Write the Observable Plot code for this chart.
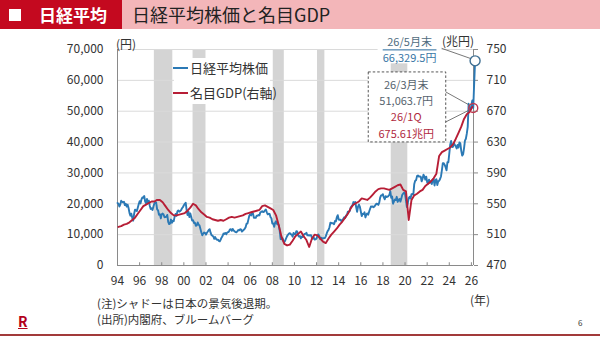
<!DOCTYPE html>
<html lang="ja">
<head>
<meta charset="utf-8">
<script src="https://cdn.jsdelivr.net/npm/d3@7"></script>
<script src="https://cdn.jsdelivr.net/npm/@observablehq/plot@0.6"></script>
<style>
  body { margin: 0; background: #fff; }
  #page { position: relative; width: 600px; height: 337px; overflow: hidden;
          font-family: "Noto Sans CJK JP", "Noto Sans", sans-serif; color: #333; }
  #page > * { position: absolute; }
  #page svg { left: 0; top: 0; }
  .hdr-red { left: 0; top: 0; width: 122px; height: 29px; background: #c4091f; }
  .hdr-sq { left: 9px; top: 9px; width: 12px; height: 12px; background: #fff; }
  .hdr-tag { left: 39px; top: 0; height: 29px; line-height: 29px; color: #fff; font-weight: 700; font-size: 17px; }
  .hdr-pink { left: 122px; top: 0; width: 478px; height: 29px; background: #f3b6b9; }
  .hdr-title { left: 132px; top: 0; height: 29px; line-height: 29px; color: #222; font-size: 18px; }
  .unit { font-size: 12px; line-height: 14px; color: #333; }
  .legend-box { left: 174px; top: 58px; width: 96px; height: 46px; background: #fff; }
  .legend-swatch { width: 15px; height: 2px; }
  .legend-text { font-size: 13px; line-height: 16px; color: #333; white-space: nowrap; }
  .note { left: 97px; font-size: 11.5px; line-height: 14px; color: #333; white-space: nowrap; }
  .logo { left: 18px; top: 313px; font-size: 14px; font-weight: 700; color: #b3001b; line-height: 16px;
          text-decoration: underline; }
  .pageno { left: 578px; top: 317px; font-size: 8px; color: #333; }
  .rule-bottom { left: 0; top: 334px; width: 600px; height: 2px; background: #a23a3a; }
</style>
</head>
<body>
<div id="page">
  <div class="hdr-red"></div>
  <div class="hdr-sq"></div>
  <div class="hdr-tag">日経平均</div>
  <div class="hdr-pink"></div>
  <div class="hdr-title">日経平均株価と名目GDP</div>
</div>
<script>
const FONT = '"Noto Sans CJK JP", "Noto Sans", sans-serif';
const BLUE = "#2b79b5";
const RED = "#b71e36";

// Nikkei 225, month-end close (yen), January 1994 to May 2026
const nikkeiStartYear = 1994;
const nikkeiMonthly = [
  20229,19997,19112,19725,20973,20644,20449,20629,19564,19990,19076,19723,
  18650,17053,16140,16807,15437,14517,16678,18117,17913,17655,18744,19868,
  20813,20125,21407,22041,21956,22531,20693,20167,21556,20467,21020,19361,
  18330,18557,18003,19151,20069,20605,20331,18229,17888,16459,16636,15259,
  16628,16832,16527,15641,15671,15831,16379,14108,13406,13564,14884,13842,
  14499,14368,15837,16702,16112,17530,17862,17437,17605,17942,18558,18934,
  19540,19960,20337,17974,16332,17411,15727,16861,15747,14539,14649,13785,
  13843,12883,12999,13934,13262,12969,11861,10714,9775,10366,10697,10543,
  9997,10588,11025,11493,11764,10622,9877,9619,9383,8640,9216,8579,
  8340,8363,7973,7831,8425,9083,9563,10344,10219,10560,10101,10677,
  10784,11042,11715,11762,11236,11859,11326,11082,10824,10771,11069,11489,
  11388,11741,11669,11009,11277,11584,11900,12414,13574,13607,14872,16111,
  16650,16205,17060,16906,15467,15505,15457,16141,16128,16399,16274,17226,
  17383,17604,17288,17400,17876,18138,17249,16569,16786,16738,15681,15308,
  13592,13604,12526,13850,14339,13481,13377,13073,11260,8577,8512,8860,
  7994,7568,8110,8828,9523,9958,10357,10493,10133,10035,9346,10546,
  10198,10126,11090,11057,9769,9383,9537,8824,9369,9202,9937,10229,
  10237,10624,9755,9850,9694,9816,9833,8955,8700,8988,8435,8455,
  8803,9723,10084,9521,8543,9007,8695,8840,8870,8928,9446,10395,
  11139,11559,12398,13861,13775,13677,13668,13389,14456,14328,15662,16291,
  14915,14841,14828,14304,14632,15162,15621,15425,16174,16414,17460,17451,
  17674,18798,19207,19520,20563,20236,20585,18890,17388,19083,19747,19034,
  17518,16027,16759,16666,17235,15576,16569,16887,16450,17425,18308,19114,
  19041,19119,18909,19197,19651,20033,19925,19646,20356,22012,22725,22765,
  23098,22068,21454,22468,22202,22305,22554,22865,24120,21920,22351,20015,
  20773,21385,21206,22259,20601,21276,21522,20704,21756,22927,23294,23657,
  23205,21143,18917,20194,21878,22288,21710,23140,23185,22977,26434,27444,
  27663,28966,29179,28813,28860,28792,27284,28090,29453,28893,27822,28792,
  27002,26527,27821,26848,27280,26393,27802,28092,25937,27587,27969,26095,
  27327,27446,28041,28856,30888,33189,33172,32619,31858,30859,33487,33464,
  36287,39166,40369,38406,38488,39583,39102,38648,37920,39081,38208,39895,
  39572,37156,35618,36045,37965,40487,41070,42718,44933,52411,50254,50339,
  52000,53500,51063.7,59000,66329.5
];

// Nominal GDP, seasonally adjusted annual rate (trillion yen), 1994 Q1 to 2026 Q1
const gdpStartYear = 1994;
const gdpQuarterly = [
  520,521,523,524, 526,529,532,537, 542,547,549,551, 553,553,555,555,
  552,547,542,538, 535,535,536,537, 538,541,545,550, 548,543,539,536,
  533,532,530,529, 528,529,528,530, 532,533,532,533, 534,535,537,538,
  539,540,541,542, 547,548,546,544, 542,535,522,507, 498,496,497,502,
  508,511,514,508, 503,494,505,510, 509,505,501,499, 505,510,514,518,
  523,527,532,537, 544,549,551,553, 557,556,555,558, 562,566,569,570,
  570,569,568,570, 572,574,575,568, 566,529,555,561, 563,566,568,573,
  576,579,583,589, 612,617,619,621, 623,627,634,642, 650,660,666,669,
  675.61
];

// Recession periods: [start year, start month, end year, end month]
const recessions = [
  [1997, 5, 1999, 1],
  [2000, 11, 2002, 1],
  [2008, 2, 2009, 2],
  [2012, 2, 2012, 10],
  [2018, 10, 2020, 4]
];

const yearTicks = d3.range(1994, 2027, 2);
const yenTicks = d3.range(0, 70001, 10000);
const gdpTicks = d3.range(470, 751, 40);

// Right axis: 470–750 trillion yen shares the 0–70,000 yen range
const gdpBase = 470, yenPerTrillion = 250;
const toLeft = v => (v - gdpBase) * yenPerTrillion;
const xEnd = 2026.19;

const monthTime = (y, m) => y + (m - 1) / 12;
const nikkei = nikkeiMonthly.map((v, i) => ({
  t: nikkeiStartYear + i / 12,
  year: nikkeiStartYear + Math.floor(i / 12),
  month: (i % 12) + 1,
  v
}));
const gdp = gdpQuarterly.map((v, i) => ({
  t: gdpStartYear + (3 * i + 1) / 12,
  year: gdpStartYear + Math.floor(i / 4),
  q: (i % 4) + 1,
  v,
  y: toLeft(v)
}));
const shades = recessions.map(([y1, m1, y2, m2]) => ({x1: monthTime(y1, m1), x2: monthTime(y2, m2)}));

const latest = nikkei[nikkei.length - 1];
const lastGdp = gdp[gdp.length - 1];
const marNikkei = nikkei.find(d => d.year === lastGdp.year && d.month === lastGdp.q * 3);

const yy = y => String(y % 100).padStart(2, "0");

// Callout labels with leader lines, placed relative to the points they describe
function callouts(index, scales) {
  const X = scales.x, Y = scales.y;
  const g = d3.create("svg:g").attr("font-family", FONT).attr("font-size", 11);
  const ax = X(latest.t), ay = Y(latest.v);
  const bx = X(marNikkei.t), by = Y(marNikkei.v);

  g.append("rect").attr("x", ax - 97).attr("y", ay - 28).attr("width", 64).attr("height", 31).attr("fill", "#fff");
  g.append("line").attr("x1", ax - 33).attr("y1", ay - 12).attr("x2", ax - 4.5).attr("y2", ay - 2)
    .attr("stroke", "#555").attr("stroke-width", 0.8);
  g.append("text").attr("x", ax - 65).attr("y", ay - 19).attr("text-anchor", "middle").attr("dominant-baseline", "central")
    .attr("fill", "#4f6c80").text(`${yy(latest.year)}/${latest.month}月末`);
  g.append("text").attr("x", ax - 65).attr("y", ay - 3).attr("text-anchor", "middle").attr("dominant-baseline", "central")
    .attr("fill", "#3a77a6").attr("text-decoration", "underline")
    .text(`${d3.format(",.1f")(latest.v)}円`);

  g.append("rect").attr("x", bx - 104.5).attr("y", by - 35.5).attr("width", 77.5).attr("height", 70)
    .attr("fill", "#fff").attr("stroke", "#444").attr("stroke-width", 0.9).attr("stroke-dasharray", "2.5,2");
  g.append("line").attr("x1", bx - 27).attr("y1", by - 15.5).attr("x2", bx - 4.2).attr("y2", by - 2.8)
    .attr("stroke", "#555").attr("stroke-width", 0.8);
  g.append("line").attr("x1", bx - 27).attr("y1", by + 14.5).attr("x2", bx - 4.2).attr("y2", by + 3)
    .attr("stroke", "#555").attr("stroke-width", 0.8);
  const cx = bx - 66.5;
  const rows = [
    [`${yy(marNikkei.year)}/${marNikkei.month}月末`, -23.5, "#56636e"],
    [`${d3.format(",.1f")(marNikkei.v)}円`, -7.3, "#56636e"],
    [`${yy(lastGdp.year)}/${lastGdp.q}Q`, 8.9, "#b0293e"],
    [`${d3.format(".2f")(lastGdp.v)}兆円`, 25.1, "#b0293e"]
  ];
  for (const [txt, dy, col] of rows) {
    g.append("text").attr("x", cx).attr("y", by + dy).attr("text-anchor", "middle")
      .attr("dominant-baseline", "central").attr("fill", col).text(txt);
  }
  return g.node();
}

const chart = Plot.plot({
  width: 600,
  height: 337,
  marginLeft: 117,
  marginRight: 127,
  marginTop: 49,
  marginBottom: 72,
  style: {fontFamily: FONT, fontSize: "12px", color: "#333", background: "transparent", overflow: "visible"},
  x: {domain: [1994, xEnd], label: null},
  y: {domain: [0, 70000], label: null},
  marks: [
    Plot.rect(shades, {x1: "x1", x2: "x2", y1: 0, y2: 70000, fill: "#d4d4d4"}),
    Plot.gridY(yenTicks.filter(d => d > 0), {stroke: "#dadada", strokeOpacity: 1, strokeWidth: 1}),
    Plot.ruleY([0], {stroke: "#8a8a8a"}),
    Plot.ruleX([1994, xEnd], {stroke: "#8a8a8a"}),
    Plot.ruleX(yearTicks, {x: d => d, y1: 0, y2: 900, stroke: "#8a8a8a"}),
    Plot.axisY(yenTicks, {anchor: "left", tickSize: 0, tickPadding: 14, tickFormat: d3.format(","), fontSize: 12, label: null}),
    Plot.axisY(gdpTicks.map(toLeft), {anchor: "right", tickSize: 4, tickPadding: 9, stroke: "#8a8a8a",
      tickFormat: d => String(d / yenPerTrillion + gdpBase), fontSize: 12, label: null}),
    Plot.axisX(yearTicks, {anchor: "bottom", tickSize: 0, tickPadding: 11, tickFormat: yy, fontSize: 12, label: null}),
    Plot.line(nikkei, {x: "t", y: "v", stroke: BLUE, strokeWidth: 1.9}),
    Plot.line(gdp, {x: "t", y: "y", stroke: RED, strokeWidth: 1.9}),
    callouts,
    Plot.dot([latest], {x: "t", y: "v", r: 5, stroke: "#3f6f92", strokeWidth: 1.4, fill: "#fff"}),
    Plot.dot([marNikkei], {x: "t", y: "v", r: 4.5, stroke: "#c0394f", strokeWidth: 1.4, fill: "none"})
  ]
});

const page = document.getElementById("page");
page.insertBefore(chart, page.firstChild);

function addDiv(cls, style, text) {
  const el = document.createElement("div");
  el.className = cls;
  Object.assign(el.style, style);
  if (text != null) el.textContent = text;
  page.appendChild(el);
  return el;
}

// Axis units
addDiv("unit", {left: "116px", top: "37px"}, "(円)");
addDiv("unit", {left: "442px", top: "34px"}, "(兆円)");
addDiv("unit", {left: "470px", top: "293px"}, "(年)");

// Legend
addDiv("legend-box", {});
addDiv("legend-swatch", {left: "173px", top: "67px", background: BLUE});
addDiv("legend-text", {left: "190px", top: "60px"}, "日経平均株価");
addDiv("legend-swatch", {left: "173px", top: "92px", background: RED});
addDiv("legend-text", {left: "190px", top: "85px"}, "名目GDP(右軸)");

// Notes and footer
addDiv("note", {top: "296px"}, "(注)シャドーは日本の景気後退期。");
addDiv("note", {top: "312px"}, "(出所)内閣府、ブルームバーグ");
addDiv("logo", {}, "R");
addDiv("pageno", {}, "6");
addDiv("rule-bottom", {});
</script>
</body>
</html>
